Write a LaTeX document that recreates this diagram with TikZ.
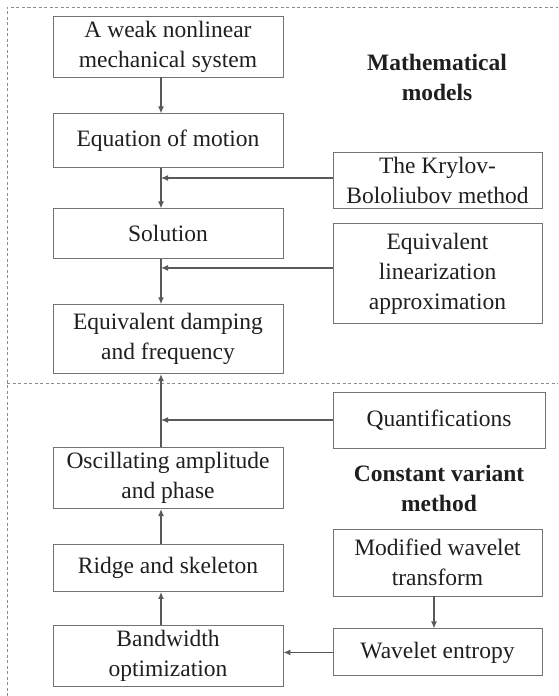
\documentclass[tikz,border=0pt]{standalone}
\usepackage{fontspec}
\setmainfont{Liberation Serif}
\usetikzlibrary{arrows.meta,positioning}

\begin{document}
\begin{tikzpicture}[
        x=1pt, y=-1pt,
        every node/.style={align=center, text=black!88, font=\fontsize{23.5}{30}\selectfont},
        box/.style={draw=black!55, line width=0.9pt, inner sep=0pt},
        lcol/.style={box, minimum width=230pt},
        rcol/.style={box, minimum width=209pt},
        heading/.style={font=\fontsize{23.5}{30}\selectfont\bfseries},
        link/.style={draw=black!65, line width=1.2pt, -{Latex[length=7pt,width=6pt]}},
        frame/.style={draw=black!45, line width=0.8pt, dash pattern=on 3pt off 2.5pt}
    ]
  \useasboundingbox (0,0) rectangle (558,696);

  % Frame
  \draw[frame] (7,696) -- (7,7) -- (558,7);
  \draw[frame] (7,383) -- (558,383);

  % Nodes
  \node[lcol, minimum height=61pt] (sys) at (168,46.5) {A weak nonlinear\\mechanical system};
  \node[lcol, minimum height=54pt, below=36pt of sys] (eom) {Equation of motion};
  \node[lcol, minimum height=50pt, below=40pt of eom] (sol) {Solution};
  \node[lcol, minimum height=69pt, below=45pt of sol] (eqd) {Equivalent damping\\and frequency};
  \node[lcol, minimum height=61pt, below=73pt of eqd] (osc) {Oscillating amplitude\\and phase};
  \node[lcol, minimum height=47pt, below=35pt of osc] (ridge) {Ridge and skeleton};
  \node[lcol, minimum height=61pt, below=33pt of ridge] (band) {Bandwidth\\optimization};

  \node[heading] (mathlbl) at (437,77) {Mathematical\\models};
  \node[rcol, minimum height=56pt] (kb) at (437.5,180) {The Krylov-\\Bololiubov method};
  \node[rcol, minimum height=100pt, below=15pt of kb] (elin) {Equivalent\\linearization\\approximation};

  \node[box, minimum width=212pt, minimum height=56pt] (quant) at (439,420) {Quantifications};
  \node[heading] (cvlbl) at (439,488) {Constant variant\\method};
  \node[rcol, minimum height=67pt] (mwt) at (437.5,562.5) {Modified wavelet\\transform};
  \node[rcol, minimum height=47pt, below=32pt of mwt] (ent) {Wavelet entropy};

  % Connectors
  \coordinate (spine) at (161,0);
  \draw[link] ([xshift=-7pt]sys.south) -- ([xshift=-7pt]eom.north);
  \draw[link] ([xshift=-7pt]eom.south) -- ([xshift=-7pt]sol.north);
  \draw[link] ([xshift=-7pt]sol.south) -- ([xshift=-7pt]eqd.north);
  \draw[link] ([xshift=-7pt]osc.north) -- ([xshift=-7pt]eqd.south);
  \draw[link] ([xshift=-7pt]ridge.north) -- ([xshift=-7pt]osc.south);
  \draw[link] ([xshift=-7pt]band.north) -- ([xshift=-7pt]ridge.south);
  \draw[link] ([yshift=2pt]kb.west) -- ([yshift=2pt]kb.west -| spine);
  \draw[link] ([yshift=6pt]elin.west) -- ([yshift=6pt]elin.west -| spine);
  \draw[link] (quant.west) -- (quant.west -| spine);
  \draw[link] ([xshift=-3.5pt]mwt.south) -- ([xshift=-3.5pt]ent.north);
  \draw[link] (ent.west) -- (ent.west -| band.east);
\end{tikzpicture}
\end{document}
